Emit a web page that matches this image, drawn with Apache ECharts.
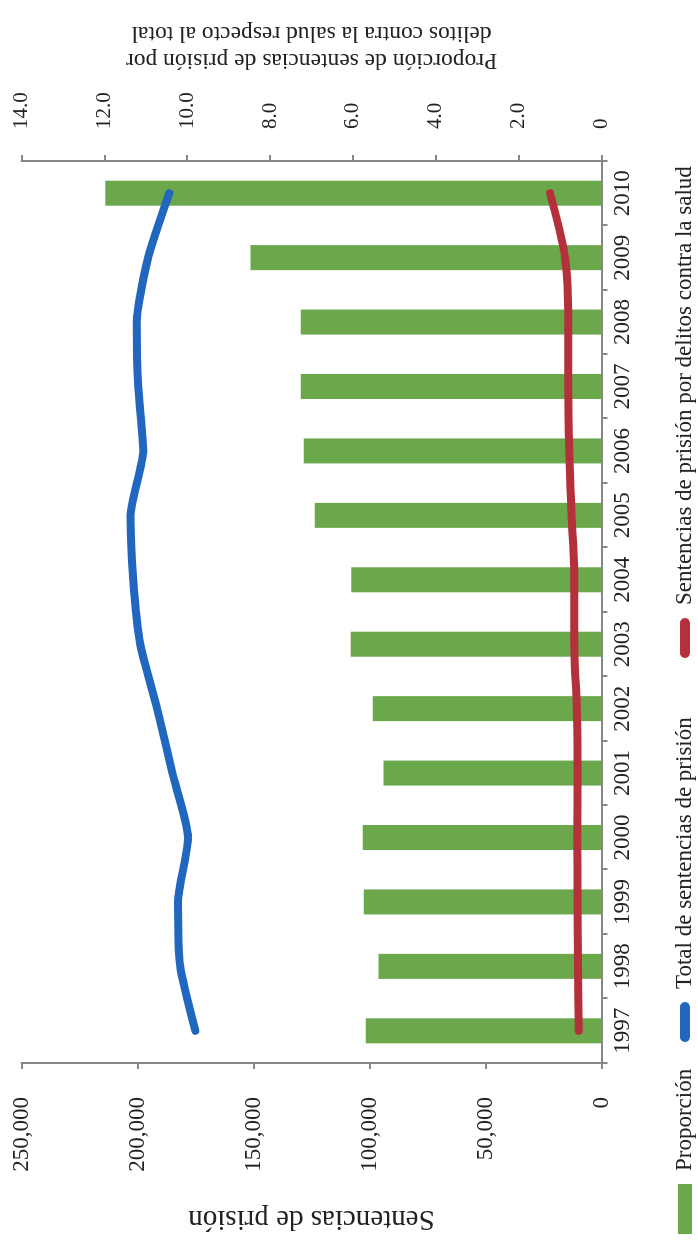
<!DOCTYPE html>
<html>
<head>
<meta charset="utf-8">
<script src="https://cdn.jsdelivr.net/npm/echarts@6/dist/echarts.min.js"></script>
<style>
html,body{margin:0;padding:0;background:#fff;overflow:hidden;width:698px;height:1251px;}
#chart{position:absolute;left:0;top:0;width:1251px;height:698px;transform-origin:0 0;transform:translate(0,1251px) rotate(-90deg);}
</style>
</head>
<body>
<div id="chart"></div>
<script>
// Data
var years = ['1997','1998','1999','2000','2001','2002','2003','2004','2005','2006','2007','2008','2009','2010'];
var proporcion = [5.69, 5.38, 5.74, 5.76, 5.26, 5.52, 6.05, 6.04, 6.92, 7.19, 7.26, 7.26, 8.47, 11.98];
var totalSentencias = [175100, 181600, 182500, 178200, 185000, 191500, 198800, 201800, 203000, 197500, 199700, 200300, 195400, 186300];
var sentenciasSalud = [9800, 10100, 10300, 10400, 10300, 10700, 11700, 11700, 12900, 13900, 14300, 14300, 15700, 22200];
var leftTicks = [0, 50000, 100000, 150000, 200000, 250000];
var rightTicks = [0, 2, 4, 6, 8, 10, 12, 14];

var nameBar = 'Proporción';
var nameTotal = 'Total de sentencias de prisión';
var nameSalud = 'Sentencias de prisión por delitos contra la salud';
var leftTitle = 'Sentencias de prisión';
var rightTitle = 'Proporción de sentencias de prisión por\ndelitos contra la salud respecto al total';

var FONT = 'Liberation Serif';
var AXIS_COLOR = '#878787';
var GREEN = '#6aa84b', BLUE = '#2167bf', RED = '#b4303a';
var capsule = 'path://M5,0 L35,0 A5,5 0 0 1 35,10 L5,10 A5,5 0 0 1 5,0 Z';

var chart = echarts.init(document.getElementById('chart'), null, {width:1251, height:698, renderer:'canvas'});

function legendFor(name, left, icon, w, h) {
  return {
    data: [name], left: left, top: 666, orient: 'horizontal',
    icon: icon, itemWidth: w, itemHeight: h, selectedMode: false,
    textStyle: {fontFamily: FONT, fontSize: 23, color: '#222', padding: [0,0,0,8], lineHeight: 28}
  };
}

chart.setOption({
  animation: false,
  backgroundColor: '#fff',
  grid: {left: 188, right: 161, top: 21.5, bottom: 96.5, containLabel: false},
  legend: [
    legendFor(nameBar, 12, 'rect', 50, 14),
    legendFor(nameTotal, 204, capsule, 40, 10),
    legendFor(nameSalud, 588, capsule, 40, 10)
  ],
  xAxis: {
    type: 'category', data: years, boundaryGap: true,
    axisLine: {lineStyle: {color: AXIS_COLOR, width: 2}},
    axisTick: {show: true, alignWithLabel: false, length: 6, lineStyle: {color: AXIS_COLOR, width: 2}},
    axisLabel: {fontFamily: FONT, fontSize: 23, color: '#222', margin: 10}
  },
  yAxis: [
    {
      type: 'value', position: 'left', min: 0, max: 250000, interval: 50000,
      name: leftTitle, nameLocation: 'middle', nameRotate: 90, nameGap: 141,
      nameTextStyle: {fontFamily: FONT, fontSize: 29, color: '#222'},
      axisLine: {show: true, lineStyle: {color: AXIS_COLOR, width: 2}},
      axisTick: {show: true, length: 6, lineStyle: {color: AXIS_COLOR, width: 2}},
      splitLine: {show: false},
      axisLabel: {fontFamily: FONT, fontSize: 23, color: '#222', margin: 34,
        formatter: function (v) { return leftTicks.indexOf(v) >= 0 ? (v === 0 ? '0' : v.toLocaleString('en-US')) : ''; }}
    },
    {
      type: 'value', position: 'right', min: 0, max: 14, interval: 2,
      name: rightTitle, nameLocation: 'middle', nameRotate: 90, nameGap: 87,
      nameTextStyle: {fontFamily: FONT, fontSize: 23.5, color: '#222', lineHeight: 27, align: 'center'},
      axisLine: {show: true, lineStyle: {color: AXIS_COLOR, width: 2}},
      axisTick: {show: true, length: 6, lineStyle: {color: AXIS_COLOR, width: 2}},
      splitLine: {show: false},
      axisLabel: {fontFamily: FONT, fontSize: 21, color: '#222', margin: 32,
        formatter: function (v) { return rightTicks.indexOf(v) >= 0 ? (v === 0 ? '0' : v.toFixed(1)) : ''; }}
    }
  ],
  series: [
    {
      name: nameBar, type: 'bar', yAxisIndex: 1, data: proporcion,
      barWidth: 25, itemStyle: {color: GREEN}, z: 2
    },
    {
      name: nameTotal, type: 'line', yAxisIndex: 0, data: totalSentencias,
      smooth: 0.2, symbol: 'none', itemStyle: {color: BLUE},
      lineStyle: {color: BLUE, width: 8, cap: 'round', join: 'round'}, z: 3
    },
    {
      name: nameSalud, type: 'line', yAxisIndex: 0, data: sentenciasSalud,
      smooth: 0.3, symbol: 'none', itemStyle: {color: RED},
      lineStyle: {color: RED, width: 8, cap: 'round', join: 'round'}, z: 3
    }
  ]
});
</script>
</body>
</html>
